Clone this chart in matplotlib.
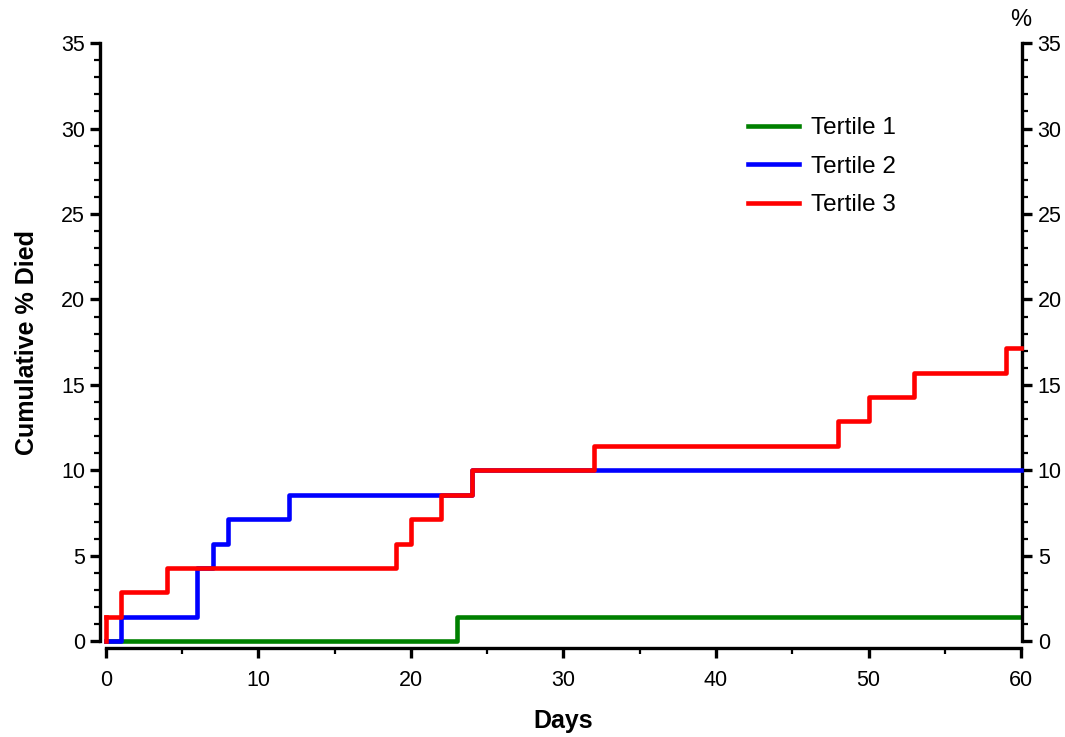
import matplotlib
matplotlib.use("Agg")
import matplotlib.pyplot as plt
from matplotlib.ticker import MultipleLocator

plt.rcParams['font.family'] = ['Liberation Sans', 'DejaVu Sans']

# step times (days) and cumulative % died after each step
t1_days = [0, 23, 60]
t1_pct = [0, 1.43, 1.43]

t2_days = [0, 1, 6, 7, 8, 12, 24, 60]
t2_pct = [0, 1.43, 4.29, 5.71, 7.14, 8.57, 10.0, 10.0]

t3_days = [0, 1, 4, 19, 20, 22, 24, 32, 48, 50, 53, 59, 60]
t3_pct = [1.43, 2.86, 4.29, 5.71, 7.14, 8.57, 10.0, 11.43, 12.86, 14.29, 15.71, 17.14, 17.14]

fig = plt.figure(figsize=(10.65, 7.37), dpi=100)
ax = fig.add_axes([0.0995, 0.130, 0.8592, 0.8115])

lw = 3.3
ax.plot([0, 0], [0, t3_pct[0]], color='#ff0000', lw=lw, clip_on=False, zorder=4)
ax.step(t1_days, t1_pct, where='post', color='#008000', lw=lw, label='Tertile 1', clip_on=False, zorder=2)
ax.step(t2_days, t2_pct, where='post', color='#0000ff', lw=lw, label='Tertile 2', clip_on=False, zorder=3)
ax.step(t3_days, t3_pct, where='post', color='#ff0000', lw=lw, label='Tertile 3', clip_on=False, zorder=4)

ax.set_xlim(0, 60)
ax.set_ylim(0, 35)
ax.xaxis.set_major_locator(MultipleLocator(10))
ax.xaxis.set_minor_locator(MultipleLocator(5))
ax.yaxis.set_major_locator(MultipleLocator(5))
ax.yaxis.set_minor_locator(MultipleLocator(1))

for s in ['left', 'right', 'bottom']:
    ax.spines[s].set_linewidth(2.4)
ax.spines['top'].set_visible(False)
ax.spines['bottom'].set_position(('outward', 5))
ax.spines['left'].set_position(('outward', 4))
ax.spines['right'].set_position(('outward', 1))
ax.spines['bottom'].set_bounds(0, 60)
ax.spines['left'].set_bounds(0, 35)
ax.spines['right'].set_bounds(0, 35)

ax.tick_params(axis='both', which='major', direction='out', length=7, width=2.4,
               labelsize=15.5, pad=3)
ax.tick_params(axis='both', which='minor', direction='out', length=4.5, width=1.6)
ax.tick_params(axis='y', which='both', right=True, labelright=True)
ax.tick_params(axis='y', which='major', right=True, pad=4)
ax.tick_params(axis='x', which='major', pad=9)

ax.set_xlabel('Days', fontsize=18, fontweight='bold', labelpad=13)
ax.set_ylabel('Cumulative % Died', fontsize=18, fontweight='bold', labelpad=16)
ax.text(1.0, 1.02, '%', transform=ax.transAxes, fontsize=17, ha='center', va='bottom')

leg = ax.legend(loc='upper left', bbox_to_anchor=(0.7016, 0.876), frameon=False,
                fontsize=17.5, handlelength=2.1, handletextpad=0.5, labelspacing=0.68,
                borderpad=0, borderaxespad=0)

fig.savefig('out.png', dpi=100)
